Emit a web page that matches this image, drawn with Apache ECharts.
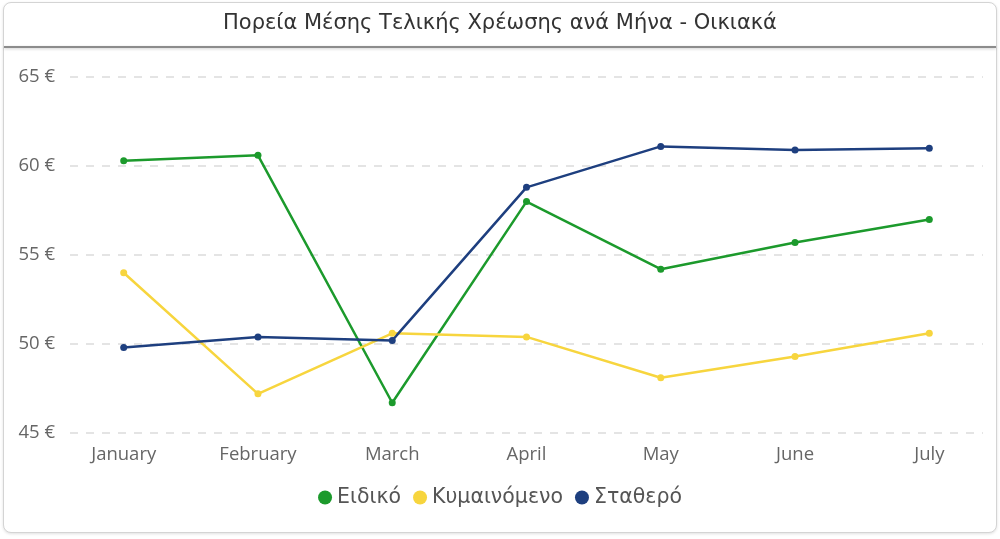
<!DOCTYPE html>
<html>
<head>
<meta charset="utf-8">
<script src="https://cdn.jsdelivr.net/npm/echarts@6/dist/echarts.min.js"></script>
<style>
  body { margin: 0; background: #fff; }
  #card {
    position: absolute; left: 3px; top: 2px; width: 992px; height: 529px;
    border: 1px solid #d4d4d4; border-radius: 8px;
    box-shadow: 0 1px 3px rgba(0,0,0,0.12);
    background: #fff;
  }
  #chart { position: absolute; left: 0; top: 0; width: 1000px; height: 539px; }
</style>
</head>
<body>
<div id="card"></div>
<div id="chart"></div>
<script>
const months = ['January', 'February', 'March', 'April', 'May', 'June', 'July'];
const eidiko = [60.3, 60.6, 46.7, 58.0, 54.2, 55.7, 57.0];
const kymainomeno = [54.0, 47.2, 50.6, 50.4, 48.1, 49.3, 50.6];
const statheró = [49.8, 50.4, 50.2, 58.8, 61.1, 60.9, 61.0];
const yTicks = [45, 50, 55, 60, 65];

// x as value axis so the points sit inside the grid like the original
function toPoints(arr) {
  return arr.map((v, i) => [i, v]);
}

const chart = echarts.init(document.getElementById('chart'));

function lineSeries(name, values, color) {
  return {
    name: name,
    type: 'line',
    data: toPoints(values),
    symbol: 'circle',
    symbolSize: 7,
    lineStyle: { width: 2.5, color: color },
    itemStyle: { color: color },
    emphasis: { disabled: true }
  };
}

const option = {
  animation: false,
  title: {
    text: 'Πορεία Μέσης Τελικής Χρέωσης ανά Μήνα - Οικιακά',
    left: 'center',
    top: 8,
    textStyle: { fontFamily: 'DejaVu Sans', fontSize: 21, fontWeight: 'normal', color: '#333' }
  },
  graphic: [{
    type: 'rect',
    shape: { x: 4, y: 46, width: 992, height: 2 },
    style: { fill: '#8c8c8c', shadowBlur: 3, shadowColor: 'rgba(0,0,0,0.2)', shadowOffsetY: 1 }
  }],
  legend: {
    bottom: 26,
    left: 'center',
    icon: 'circle',
    itemWidth: 14,
    itemHeight: 14,
    itemGap: 12,
    textStyle: { fontFamily: 'DejaVu Sans', fontSize: 20.5, color: '#555' },
    data: ['Ειδικό', 'Κυμαινόμενο', 'Σταθερό']
  },
  grid: { left: 70, right: 17, top: 77, bottom: 106 },
  xAxis: {
    type: 'value',
    min: -0.4,
    max: 6.4,
    axisLine: { show: false },
    axisTick: { show: false },
    splitLine: { show: false },
    axisLabel: {
      customValues: months.map((m, i) => i),
      formatter: v => months[Math.round(v)] || '',
      color: '#666',
      fontFamily: 'Open Sans',
      fontSize: 18.5,
      margin: 12
    }
  },
  yAxis: {
    type: 'value',
    min: yTicks[0],
    max: yTicks[yTicks.length - 1],
    interval: 5,
    axisLine: { show: false },
    axisTick: { show: false },
    axisLabel: {
      formatter: '{value} €',
      color: '#666',
      fontFamily: 'Open Sans',
      fontSize: 18.5,
      margin: 15
    },
    splitLine: { lineStyle: { type: [8, 8], color: '#dcdcdc', width: 1.5 } }
  },
  series: [
    lineSeries('Ειδικό', eidiko, '#1c9a2c'),
    lineSeries('Κυμαινόμενο', kymainomeno, '#f7d53e'),
    lineSeries('Σταθερό', statheró, '#1e3f7f')
  ]
};

chart.setOption(option);
window.addEventListener('resize', () => chart.resize());
</script>
</body>
</html>
